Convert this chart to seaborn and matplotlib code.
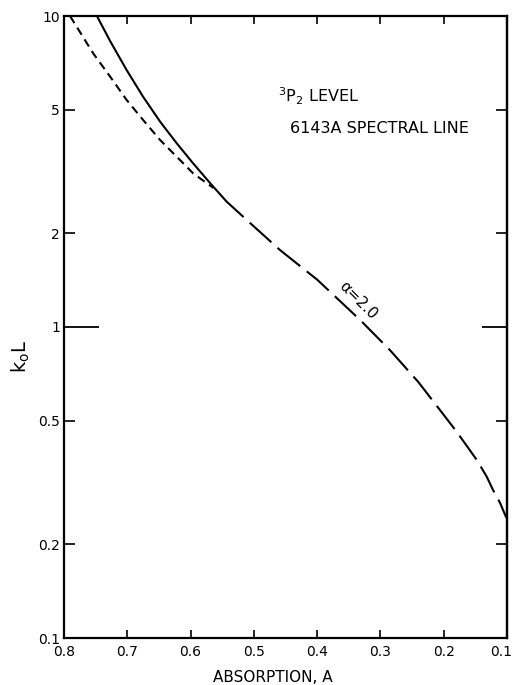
import matplotlib
matplotlib.use("Agg")
import matplotlib.pyplot as plt
import matplotlib.transforms as mtransforms
import seaborn as sns
from matplotlib.ticker import FixedLocator, FixedFormatter, NullLocator

# Absorption A vs. k0*L for the 3P2 level, 6143 A spectral line
solid_A = [0.748, 0.727, 0.701, 0.675, 0.648, 0.622, 0.596, 0.569, 0.543]
solid_k = [10.0, 8.3, 6.70, 5.50, 4.57, 3.90, 3.36, 2.90, 2.53]

short_A = [0.7905, 0.754, 0.727, 0.701, 0.675, 0.648, 0.622, 0.596, 0.564]
short_k = [10.0, 7.59, 6.38, 5.37, 4.63, 3.99, 3.53, 3.12, 2.80]

long_A = [0.543, 0.506, 0.459, 0.40, 0.332, 0.285, 0.24, 0.206, 0.179,
          0.1475, 0.132, 0.122, 0.111, 0.1016, 0.10]
long_k = [2.53, 2.16, 1.77, 1.42, 1.053, 0.843, 0.665, 0.541, 0.459,
          0.373, 0.330, 0.299, 0.272, 0.245, 0.243]

x_ticks = [0.8, 0.7, 0.6, 0.5, 0.4, 0.3, 0.2, 0.1]
x_labels = ["0.8", "0.7", "0.6", "0.5", "0.4", "0.3", "0.2", "0.1"]
y_ticks = [0.1, 0.2, 0.5, 2, 5, 10]
y_labels = ["0.1", "0.2", "0.5", "2", "5", "10"]
y_long = [1]
y_long_labels = ["1"]

curve_label = "\u03b1=2.0"
level_label = r"$^{3}$P$_{2}$ LEVEL"
line_label = "6143A SPECTRAL LINE"

sns.set_theme(style="ticks")
plt.rcParams["font.family"] = ["DejaVu Sans"]
plt.rcParams["mathtext.fontset"] = "dejavusans"
plt.rcParams.update({
    "text.color": "black",
    "axes.labelcolor": "black",
    "xtick.color": "black",
    "ytick.color": "black",
    "axes.edgecolor": "black",
})

fig = plt.figure(figsize=(5.15, 6.85), dpi=100)
ax = fig.add_axes([64 / 515, 47 / 685, 443 / 515, 622 / 685])

lw = 1.5
sns.lineplot(x=solid_A, y=solid_k, ax=ax, color="black", lw=lw,
             sort=False, estimator=None)
sns.lineplot(x=short_A, y=short_k, ax=ax, color="black", lw=lw,
             sort=False, estimator=None, linestyle=(0, (4, 2.6)))
sns.lineplot(x=long_A, y=long_k, ax=ax, color="black", lw=lw,
             sort=False, estimator=None, linestyle=(3, (14, 4)))

ax.set_yscale("log")
ax.set_xlim(0.8, 0.1)
ax.set_ylim(0.1, 10)

for s in ax.spines.values():
    s.set_visible(True)
    s.set_linewidth(1.6)
    s.set_color("black")

ax.xaxis.set_major_locator(FixedLocator(x_ticks))
ax.xaxis.set_major_formatter(FixedFormatter(x_labels))
ax.xaxis.set_minor_locator(NullLocator())
ax.yaxis.set_major_locator(FixedLocator(y_ticks))
ax.yaxis.set_major_formatter(FixedFormatter(y_labels))
ax.yaxis.set_minor_locator(FixedLocator(y_long))
ax.yaxis.set_minor_formatter(FixedFormatter(y_long_labels))

ax.tick_params(axis="x", which="major", direction="in", length=6, width=1.2,
               top=True, bottom=True, labelsize=10, pad=5)
ax.tick_params(axis="y", which="major", direction="in", length=8, width=1.2,
               left=True, right=False, labelsize=10, pad=3)
ax.tick_params(axis="y", which="minor", direction="in", length=25, width=1.3,
               left=True, right=False, labelsize=10, pad=3)

# right-hand axis carries its own ticks (shorter long tick at 1)
sec = ax.secondary_yaxis("right")
sec.set_yscale("log")
sec.yaxis.set_major_locator(FixedLocator([0.2, 0.5, 2, 5]))
sec.yaxis.set_minor_locator(FixedLocator(y_long))
sec.tick_params(axis="y", which="major", direction="in", length=8, width=1.2,
                labelright=False)
sec.tick_params(axis="y", which="minor", direction="in", length=18, width=1.3,
                labelright=False)
sec.spines["right"].set_linewidth(1.6)

# keep the last x tick label inside the canvas
fig.canvas.draw()
last = ax.get_xticklabels()[-1]
last.set_transform(last.get_transform() +
                   mtransforms.ScaledTranslation(-4 / 72, 0, fig.dpi_scale_trans))

ax.set_xlabel("ABSORPTION, A", fontsize=11)
ax.xaxis.set_label_coords(0.472, -0.052)
ax.set_ylabel(r"k$_{\mathrm{o}}$L", fontsize=14)
ax.yaxis.set_label_coords(-0.072, 0.452)

ax.text(0.335, 1.22, curve_label, rotation=-45, rotation_mode="anchor",
        ha="center", va="center", fontsize=11)
ax.text(0.483, 0.862, level_label, transform=ax.transAxes,
        ha="left", va="baseline", fontsize=11.5)
ax.text(0.510, 0.812, line_label, transform=ax.transAxes,
        ha="left", va="baseline", fontsize=11.5)

fig.savefig("out.png", dpi=100)
